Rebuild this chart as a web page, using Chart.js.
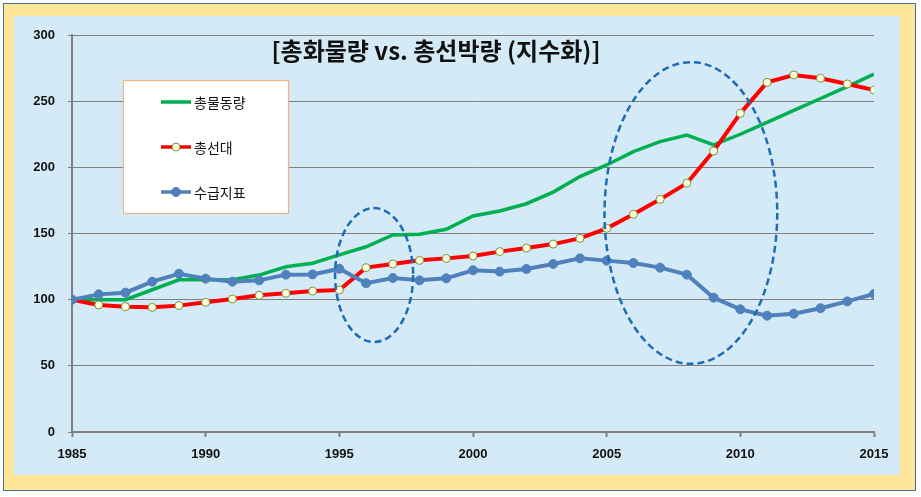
<!DOCTYPE html>
<html><head><meta charset="utf-8">
<script src="https://cdn.jsdelivr.net/npm/chart.js@4/dist/chart.umd.min.js"></script>
<style>
html,body{margin:0;padding:0;background:#fff;width:921px;height:497px;overflow:hidden;}
#frame{position:absolute;left:3px;top:3px;width:911px;height:486px;border:1.5px solid #41719C;background:#FFE699;}
#inner{position:absolute;left:14px;top:16px;width:886px;height:459px;background:#D4EAF6;}
#wrap{position:absolute;left:0;top:0;width:921px;height:497px;}
</style></head>
<body>
<div id="frame"></div>
<div id="inner"></div>
<div id="wrap"><canvas id="c" width="921" height="497"></canvas></div>
<script>
const years = [1985,1986,1987,1988,1989,1990,1991,1992,1993,1994,1995,1996,1997,1998,1999,2000,2001,2002,2003,2004,2005,2006,2007,2008,2009,2010,2011,2012,2013,2014,2015];
const cargo = [100,100,100,107.5,115,115,115,118.6,124.9,127.5,133.8,140,148.9,149.4,153.2,163.2,167,172.5,181.3,193,201.8,211.8,219.4,224.4,216.9,225,234,243,252,261,270.5];
const ships = [100,96,94.7,94.2,95.5,98,100.5,103.3,104.8,106.5,107.3,124.2,127,129.7,131.2,133,136.3,139,142,146.3,153.9,164.5,175.8,188,212.3,240.8,264.2,269.8,267.3,263,258.4];
const balance = [100,104,105.3,113.6,119.6,115.9,113.6,114.6,118.9,119.1,123.4,112.4,116.4,114.6,116.1,122.2,121.2,123.2,127,131.2,129.5,127.7,124.2,118.9,101.5,92.7,87.9,89.4,93.5,98.7,104.3];
const seriesNames = ['총물동량','총선대','수급지표'];
const titleText = '[총화물량 vs. 총선박량 (지수화)]';
const yTicks = [0,50,100,150,200,250,300];
const xTicks = [1985,1990,1995,2000,2005,2010,2015];
// highlighted regions: [centerYear, centerValue, halfWidthYears, halfHeightValue]
const highlights = [[1996.3,118.6,1.46,50.6],[2008.15,165.5,3.23,114]];

const toPts = arr => arr.map((v,i)=>({x:years[i], y:v}));

const overlay = {
  id:'overlay',
  afterDatasetsDraw(chart){
    const ctx = chart.ctx, xs = chart.scales.x, ys = chart.scales.y;
    ctx.save();
    ctx.strokeStyle = '#1F6BB8';
    ctx.lineWidth = 2.5;
    ctx.setLineDash([7,4]);
    highlights.forEach(h=>{
      const cx = xs.getPixelForValue(h[0]), cy = ys.getPixelForValue(h[1]);
      const rx = Math.abs(xs.getPixelForValue(h[0]+h[2]) - cx);
      const ry = Math.abs(ys.getPixelForValue(h[1]+h[3]) - cy);
      ctx.beginPath(); ctx.ellipse(cx,cy,rx,ry,0,0,Math.PI*2); ctx.stroke();
    });
    ctx.setLineDash([]);
    // title
    ctx.fillStyle = '#111';
    ctx.font = 'bold 24px "Noto Sans CJK KR", sans-serif';
    ctx.textAlign = 'center'; ctx.textBaseline = 'middle';
    ctx.fillText(titleText, 436, 51);
    // legend box
    ctx.fillStyle = '#fff';
    ctx.fillRect(123,80,166,134);
    ctx.strokeStyle = '#F4B183'; ctx.lineWidth = 1.2;
    ctx.strokeRect(123.5,80.5,165,133);
    const ly = [102,147,192];
    chart.data.datasets.forEach((ds,i)=>{
      const y = ly[i];
      ctx.strokeStyle = ds.borderColor; ctx.lineWidth = ds.borderWidth>3.5?3.5:ds.borderWidth;
      ctx.beginPath(); ctx.moveTo(161,y); ctx.lineTo(191,y); ctx.stroke();
      if(ds.pointRadius>0){
        ctx.beginPath(); ctx.arc(176,y,ds.pointRadius,0,Math.PI*2);
        ctx.fillStyle = ds.pointBackgroundColor; ctx.fill();
        ctx.strokeStyle = ds.pointBorderColor; ctx.lineWidth = ds.pointBorderWidth; ctx.stroke();
      }
      ctx.fillStyle = '#111';
      ctx.font = '14px "Noto Sans CJK KR", sans-serif';
      ctx.textAlign = 'left'; ctx.textBaseline = 'middle';
      ctx.fillText(ds.label, 194, y+1);
    });
    ctx.restore();
  }
};

new Chart(document.getElementById('c'),{
  type:'line',
  data:{datasets:[
    {label:seriesNames[0], data:toPts(cargo), borderColor:'#00B050', backgroundColor:'#00B050', borderWidth:3.5, pointRadius:0, pointHoverRadius:0, order:2, tension:0},
    {label:seriesNames[1], data:toPts(ships), borderColor:'#FF0000', backgroundColor:'#FF0000', borderWidth:4, pointRadius:4, pointBackgroundColor:'#FFFFE0', pointBorderColor:'#77933C', pointBorderWidth:1, order:1, tension:0},
    {label:seriesNames[2], data:toPts(balance), borderColor:'#4F81BD', backgroundColor:'#4F81BD', borderWidth:4, pointRadius:4.5, pointBackgroundColor:'#4F81BD', pointBorderColor:'#4F81BD', pointBorderWidth:1, order:0, tension:0}
  ]},
  options:{
    responsive:false, animation:false, events:[],
    layout:{padding:{left:0,top:35,right:47,bottom:0}},
    plugins:{legend:{display:false}, title:{display:false}, tooltip:{enabled:false}},
    scales:{
      x:{type:'linear', min:1985, max:2015,
        afterBuildTicks(s){ s.ticks = xTicks.map(v=>({value:v})); },
        afterFit(s){ s.height = 65; },
        ticks:{callback:v=>String(v), color:'#111', font:{family:'"Liberation Sans", Arial, sans-serif', size:13, weight:'bold'}, padding:10, maxRotation:0, autoSkip:false},
        grid:{drawOnChartArea:false, drawTicks:true, tickLength:5, tickColor:'#808080', tickWidth:2},
        border:{color:'#808080', width:2}
      },
      y:{min:0, max:300,
        afterBuildTicks(s){ s.ticks = yTicks.map(v=>({value:v})); },
        afterFit(s){ s.width = 72; },
        ticks:{color:'#111', font:{family:'"Liberation Sans", Arial, sans-serif', size:13, weight:'bold'}, padding:13},
        grid:{color:'#808080', lineWidth:1, drawTicks:true, tickLength:4, tickColor:'#808080'},
        border:{color:'#808080', width:2}
      }
    }
  },
  plugins:[overlay]
});
</script>
</body></html>
